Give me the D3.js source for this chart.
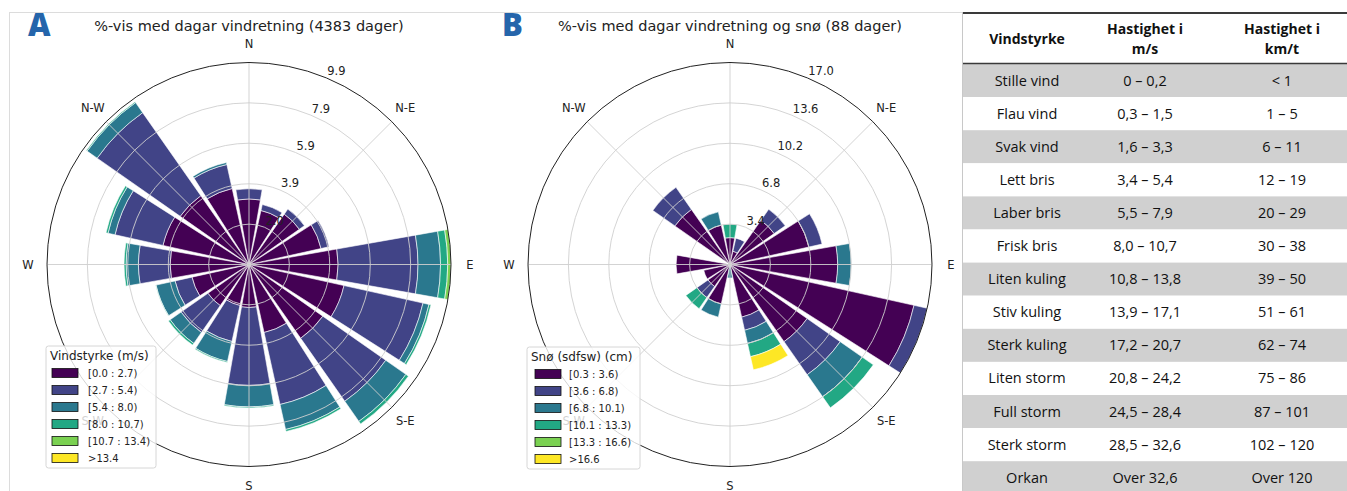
<!DOCTYPE html>
<html><head><meta charset="utf-8">
<script src="https://cdn.jsdelivr.net/npm/d3@7/dist/d3.min.js"></script>
<style>body{margin:0;background:#fff}svg{display:block}</style>
</head><body>
<svg id="c" width="1347" height="491"></svg>
<script>
// ---------- DATA ----------
const directions = ["N","NNE","NE","ENE","E","ESE","SE","SSE","S","SSW","SW","WSW","W","WNW","NW","NNW"];
const compassLabels = ["N","N-E","E","S-E","S","S-W","W","N-W"];

// Panel A: % of days per direction, per wind-speed bin (m/s)
const windBinLabels = ["[0.0 : 2.7)","[2.7 : 5.4)","[5.4 : 8.0)","[8.0 : 10.7)","[10.7 : 13.4)",">13.4"];
const windBin1 = [3.2,2.7,3.0,3.6,4.35,4.75,4.4,3.4,2.1,2.05,2.45,2.85,3.85,4.3,4.1,3.8];
const windBin2 = [0.5,0.3,0.3,0.4,3.9,3.95,3.75,3.6,3.8,1.8,1.6,0.85,1.55,2.4,4.95,1.2];
const windBin3 = [0,0,0,0,1.1,0.3,1.2,1.25,1.05,1.0,0.65,0.95,0.6,0.35,0.6,0.1];
const windBin4 = [0,0,0,0,0.35,0.1,0.15,0.1,0.05,0.05,0.1,0.02,0.1,0.1,0.05,0];
const windBin5 = [0,0,0,0,0.16,0,0,0,0,0,0,0,0,0,0,0];
const windBin6 = [0,0,0,0,0,0,0,0,0,0,0,0,0,0,0,0];
const windTicks = [1.97,3.94,5.92,7.89,9.86];
const windTickLabels = ["2.0","3.9","5.9","7.9","9.9"];

// Panel B: % of snow days per direction, per snow-depth bin (cm)
const snowBinLabels = ["[0.3 : 3.6)","[3.6 : 6.8)","[6.8 : 10.1)","[10.1 : 13.3)","[13.3 : 16.6)",">16.6"];
const snowBin1 = [2.27,1.14,4.55,6.82,9.09,15.91,7.95,4.55,0,3.41,2.27,2.27,4.55,0,5.68,3.41];
const snowBin2 = [0,1.14,1.14,1.14,0,1.14,3.41,1.14,0,0,1.14,0,0,0,2.27,0];
const snowBin3 = [0,0,0,0,1.14,0,2.27,1.14,1.14,1.14,0,0,0,0,0,1.14];
const snowBin4 = [1.14,0,0,0,0,0,1.14,1.14,0,0,1.14,0,0,0,0,0];
const snowBin5 = [0,0,0,0,0,0,0,0,0,0,0,0,0,0,0,0];
const snowBin6 = [0,0,0,0,0,0,0,1.14,0,0,0,0,0,0,0,0];
const snowTicks = [3.41,6.82,10.23,13.64,17.05];
const snowTickLabels = ["3.4","6.8","10.2","13.6","17.0"];

// Table
const tableHeader = [["Vindstyrke"],["Hastighet i","m/s"],["Hastighet i","km/t"]];
const beaufortNames = ["Stille vind","Flau vind","Svak vind","Lett bris","Laber bris","Frisk bris","Liten kuling","Stiv kuling","Sterk kuling","Liten storm","Full storm","Sterk storm","Orkan"];
const speedMS = ["0 – 0,2","0,3 – 1,5","1,6 – 3,3","3,4 – 5,4","5,5 – 7,9","8,0 – 10,7","10,8 – 13,8","13,9 – 17,1","17,2 – 20,7","20,8 – 24,2","24,5 – 28,4","28,5 – 32,6","Over 32,6"];
const speedKMT = ["< 1","1 – 5","6 – 11","12 – 19","20 – 29","30 – 38","39 – 50","51 – 61","62 – 74","75 – 86","87 – 101","102 – 120","Over 120"];

// ---------- DRAW ----------
const svg = d3.select("#c");
const viridis6 = ["#440154","#414487","#2a788e","#22a884","#7ad151","#fde725"];
const FONT = "DejaVu Sans, sans-serif";

// frame lines
svg.append("line").attr("x1",9).attr("x2",962).attr("y1",12.5).attr("y2",12.5).attr("stroke","#dcdcdc");
svg.append("line").attr("x1",9.5).attr("x2",9.5).attr("y1",12).attr("y2",491).attr("stroke","#dcdcdc");

function drawRose(opt){
  const {cx, cy, R, bins, ticks, tickLabels, title, letter, titleX, legendTitle, legendLabels, legendBox} = opt;
  const g = svg.append("g");
  const rows = directions.map((d,i)=>{const o={dir:d}; bins.forEach((b,k)=>o["b"+k]=b[i]); return o;});
  const keys = bins.map((b,k)=>"b"+k);
  const series = d3.stack().keys(keys)(rows);
  const r = d3.scaleLinear().domain([0, ticks[ticks.length-1]]).range([0, R]);
  const ang = d3.scaleBand().domain(directions).range([-Math.PI/16, 2*Math.PI - Math.PI/16]);
  const half = (20/2)*Math.PI/180;
  const arc = d3.arc();
  const rose = g.append("g").attr("transform",`translate(${cx},${cy})`);

  series.forEach((s,k)=>{
    rose.append("g").selectAll("path").data(s.filter(d=>d[1]-d[0]>0)).join("path")
      .attr("d", d=>{const c = ang(d.data.dir)+ang.bandwidth()/2;
        return arc({innerRadius:r(d[0]), outerRadius:r(d[1]), startAngle:c-half, endAngle:c+half});})
      .attr("fill", viridis6[k]).attr("stroke","#fff").attr("stroke-width",0.6);
  });
  // grid on top
  rose.append("g").selectAll("circle").data(ticks.slice(0,-1)).join("circle")
    .attr("r", d=>r(d)).attr("fill","none").attr("stroke","#cfcfcf").attr("stroke-width",1).attr("opacity",0.9);
  rose.append("g").selectAll("line").data(d3.range(8)).join("line")
    .attr("x1",0).attr("y1",0)
    .attr("x2", i=>R*Math.sin(i*Math.PI/4)).attr("y2", i=>-R*Math.cos(i*Math.PI/4))
    .attr("stroke","#cfcfcf").attr("stroke-width",1).attr("opacity",0.9);
  rose.append("circle").attr("r",R).attr("fill","none").attr("stroke","#222").attr("stroke-width",1);
  // radial labels
  const ra = 22.5*Math.PI/180;
  rose.append("g").selectAll("text").data(ticks).join("text")
    .attr("x", d=>r(d)*Math.sin(ra)+1).attr("y", d=>-r(d)*Math.cos(ra)-2.5)
    .attr("font-family",FONT).attr("font-size",11.5).attr("fill","#222")
    .text((d,i)=>tickLabels[i]);
  // compass labels
  rose.append("g").selectAll("text").data(compassLabels).join("text")
    .attr("x",(d,i)=>221*Math.sin(i*Math.PI/4)).attr("y",(d,i)=>-221*Math.cos(i*Math.PI/4))
    .attr("text-anchor","middle").attr("dominant-baseline","central")
    .attr("font-family",FONT).attr("font-size",11.5).attr("fill","#222").text(d=>d);
  // title & letter
  g.append("text").attr("x",titleX).attr("y",31).attr("text-anchor","middle")
    .attr("font-family",FONT).attr("font-size",14.5).attr("fill","#222").text(title);
  g.append("text").attr("x",letter.x).attr("y",36).attr("font-family","Open Sans, sans-serif")
    .attr("font-weight",800).attr("font-size",31).attr("fill","#2565ab").text(letter.t);
  // legend
  const L = g.append("g").attr("transform",`translate(${legendBox.x},${legendBox.y})`);
  L.append("rect").attr("width",legendBox.w).attr("height",122).attr("rx",2.5)
    .attr("fill","#fff").attr("fill-opacity",0.8).attr("stroke","#d6d6d6");
  L.append("text").attr("x",4).attr("y",14).attr("font-family",FONT).attr("font-size",12).attr("fill","#222").text(legendTitle);
  const ent = L.selectAll("g.e").data(legendLabels).join("g").attr("class","e")
    .attr("transform",(d,i)=>`translate(0,${27+i*17})`);
  ent.append("rect").attr("x",legendBox.sx).attr("y",-4.5).attr("width",26).attr("height",9)
    .attr("fill",(d,i)=>viridis6[i]).attr("stroke","#111").attr("stroke-width",0.8);
  ent.append("text").attr("x",legendBox.tx).attr("y",3.8).attr("font-family",FONT).attr("font-size",10)
    .attr("fill","#222").text(d=>d);
}

drawRose({cx:249, cy:264.5, R:202,
  bins:[windBin1,windBin2,windBin3,windBin4,windBin5,windBin6],
  ticks:windTicks, tickLabels:windTickLabels,
  title:"%-vis med dagar vindretning (4383 dager)", titleX:249, letter:{t:"A",x:28},
  legendTitle:"Vindstyrke (m/s)", legendLabels:windBinLabels,
  legendBox:{x:46,y:346,w:110,sx:6,tx:42}});

drawRose({cx:730, cy:264.5, R:202,
  bins:[snowBin1,snowBin2,snowBin3,snowBin4,snowBin5,snowBin6],
  ticks:snowTicks, tickLabels:snowTickLabels,
  title:"%-vis med dagar vindretning og snø (88 dager)", titleX:730, letter:{t:"B",x:502},
  legendTitle:"Snø (sdfsw) (cm)", legendLabels:snowBinLabels,
  legendBox:{x:527,y:347,w:113,sx:8,tx:42}});

// ---------- TABLE ----------
const T = svg.append("g");
const tx0 = 963, tx1 = 1347, headTop = 12, headBot = 64, rowH = 33.1;
const colX = [1027, 1145, 1282];
const TF = "Open Sans, sans-serif";
const y = d3.scaleBand().domain(d3.range(beaufortNames.length)).range([headBot, headBot + rowH*beaufortNames.length]);
T.selectAll("rect.row").data(d3.range(beaufortNames.length)).join("rect").attr("class","row")
  .attr("x",tx0).attr("width",tx1-tx0).attr("y",i=>y(i)).attr("height",y.bandwidth())
  .attr("fill",i=>i%2===0?"#d0d0d0":"#fff");
T.append("line").attr("x1",tx0).attr("x2",tx1).attr("y1",headTop+1).attr("y2",headTop+1).attr("stroke","#3a3a3a").attr("stroke-width",2);
T.append("line").attr("x1",tx0).attr("x2",tx1).attr("y1",headBot-0.5).attr("y2",headBot-0.5).attr("stroke","#3a3a3a").attr("stroke-width",1.5);
T.append("line").attr("x1",tx0-0.5).attr("x2",tx0-0.5).attr("y1",headTop).attr("y2",491).attr("stroke","#c8c8c8").attr("stroke-width",1);
tableHeader.forEach((lines,c)=>{
  lines.forEach((s,j)=>{
    const yy = lines.length===1 ? 43.5 : 33.5 + j*20;
    T.append("text").attr("x",colX[c]).attr("y",yy).attr("text-anchor","middle")
      .attr("font-family",TF).attr("font-weight",700).attr("font-size",14).attr("fill","#111").text(s);
  });
});
[beaufortNames, speedMS, speedKMT].forEach((col,c)=>{
  T.append("g").selectAll("text").data(col).join("text")
    .attr("x",colX[c]).attr("y",(d,i)=>y(i)+y.bandwidth()/2+5)
    .attr("text-anchor","middle").attr("font-family",TF).attr("font-size",14.5).attr("fill","#111").text(d=>d);
});
</script>
</body></html>
